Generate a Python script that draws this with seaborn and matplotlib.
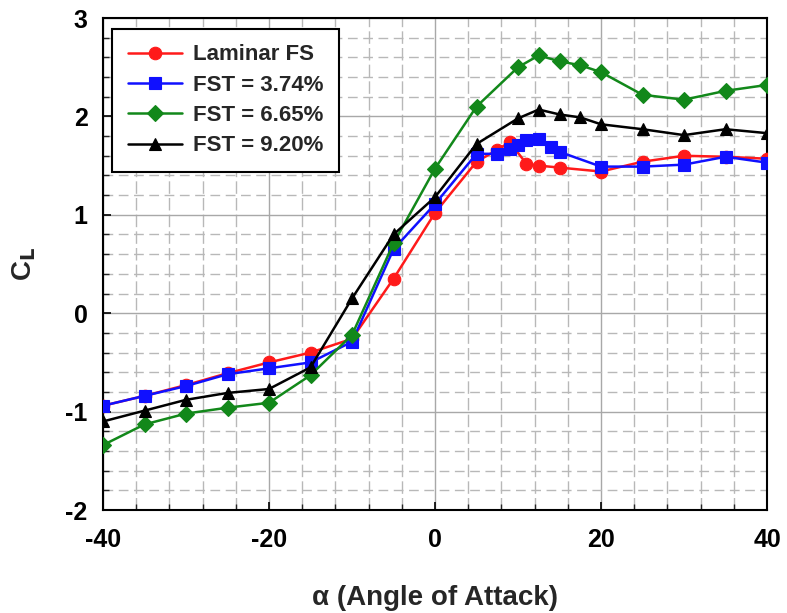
import numpy as np
import pandas as pd
import matplotlib
matplotlib.use("Agg")
import matplotlib.pyplot as plt
import seaborn as sns
from matplotlib.ticker import MultipleLocator

# ---- data ----
lam_x = [-40, -35, -30, -25, -20, -15, -10, -5, 0, 5, 7.5, 9, 11, 12.5, 15, 20, 25, 30, 35, 40]
lam_y = [-0.94, -0.84, -0.73, -0.61, -0.50, -0.40, -0.26, 0.35, 1.02, 1.54, 1.66, 1.74, 1.52, 1.50, 1.48, 1.44, 1.54, 1.60, 1.59, 1.57]

f374_x = [-40, -35, -30, -25, -20, -15, -10, -5, 0, 5, 7.5, 9, 10, 11, 12.5, 14, 15, 20, 25, 30, 35, 40]
f374_y = [-0.94, -0.84, -0.74, -0.62, -0.56, -0.50, -0.29, 0.65, 1.11, 1.62, 1.62, 1.67, 1.71, 1.76, 1.77, 1.69, 1.64, 1.49, 1.49, 1.51, 1.59, 1.53]

f665_x = [-40, -35, -30, -25, -20, -15, -10, -5, 0, 5, 10, 12.5, 15, 17.5, 20, 25, 30, 35, 40]
f665_y = [-1.34, -1.13, -1.02, -0.96, -0.91, -0.63, -0.22, 0.71, 1.47, 2.10, 2.50, 2.62, 2.56, 2.52, 2.45, 2.22, 2.17, 2.26, 2.32]

f920_x = [-40, -35, -30, -25, -20, -15, -10, -5, 0, 5, 10, 12.5, 15, 17.5, 20, 25, 30, 35, 40]
f920_y = [-1.10, -0.99, -0.88, -0.81, -0.77, -0.55, 0.15, 0.80, 1.18, 1.72, 1.98, 2.07, 2.02, 1.99, 1.92, 1.87, 1.81, 1.87, 1.83]

labels = ["Laminar FS", "FST = 3.74%", "FST = 6.65%", "FST = 9.20%"]
colors = ["#ff1a1a", "#1010ff", "#12881a", "#000000"]
markers = ["o", "s", "D", "^"]
msizes = [9, 8.5, 8, 9]

xticks = [-40, -20, 0, 20, 40]
yticks = [-2, -1, 0, 1, 2, 3]

series = [(lam_x, lam_y), (f374_x, f374_y), (f665_x, f665_y), (f920_x, f920_y)]

sns.set_theme(style="white")
plt.rcParams['font.family'] = ['Liberation Sans', 'DejaVu Sans']
plt.rcParams['axes.unicode_minus'] = False

fig = plt.figure(figsize=(7.87, 6.13), dpi=100)
ax = fig.add_axes([0.1309, 0.168, 0.8437, 0.8026])

for (xs, ys), lab, c, m, ms in zip(series, labels, colors, markers, msizes):
    df = pd.DataFrame({"alpha": xs, "CL": ys})
    sns.lineplot(data=df, x="alpha", y="CL", ax=ax, color=c, marker=m,
                 markersize=ms, markeredgecolor=c, markeredgewidth=0.8,
                 linewidth=1.8, label=lab, sort=False, estimator=None, zorder=3)

ax.set_xlim(-40, 40)
ax.set_ylim(-2, 3)
ax.set_xticks(xticks)
ax.set_yticks(yticks)
ax.set_xticklabels([str(v) for v in xticks])
ax.set_yticklabels([str(v) for v in yticks])
ax.xaxis.set_minor_locator(MultipleLocator(4))
ax.yaxis.set_minor_locator(MultipleLocator(0.2))

ax.set_axisbelow(True)
ax.grid(which='major', color='#a8a8a8', linewidth=1.0, linestyle='-')
ax.grid(which='minor', axis='y', color='#b8b8b8', linewidth=1.0, linestyle=(0, (7, 4)))
ax.grid(which='minor', axis='x', color='#b8b8b8', linewidth=1.0, linestyle=(0, (9, 3)))

ax.tick_params(axis='x', which='major', direction='in', length=6, width=1.2,
               labelsize=18, pad=13, colors='black', bottom=True)
ax.tick_params(axis='y', which='major', direction='in', length=6, width=1.2,
               labelsize=18, pad=11, colors='black', left=True)
ax.tick_params(axis='both', which='minor', direction='in', length=4, width=1.0,
               bottom=True, left=True)
for lbl in ax.get_xticklabels() + ax.get_yticklabels():
    lbl.set_fontweight('bold')

for sp in ax.spines.values():
    sp.set_color('black')
    sp.set_linewidth(1.5)
    sp.set_visible(True)

ax.set_xlabel("α (Angle of Attack)", fontsize=20, fontweight='bold', labelpad=24)
ax.set_ylabel(r"C$_\mathbf{L}$", fontsize=20, fontweight='bold', labelpad=20)

leg = ax.legend(loc='upper left', bbox_to_anchor=(0.0136, 0.978),
                prop={'weight': 'bold', 'size': 16}, frameon=True, fancybox=False,
                handlelength=2.45, handletextpad=0.5, labelspacing=0.42,
                borderpad=0.7, borderaxespad=0.0)
leg.get_frame().set_edgecolor('black')
leg.get_frame().set_linewidth(1.5)
leg.get_frame().set_alpha(1)

fig.savefig("out.png", dpi=100)
